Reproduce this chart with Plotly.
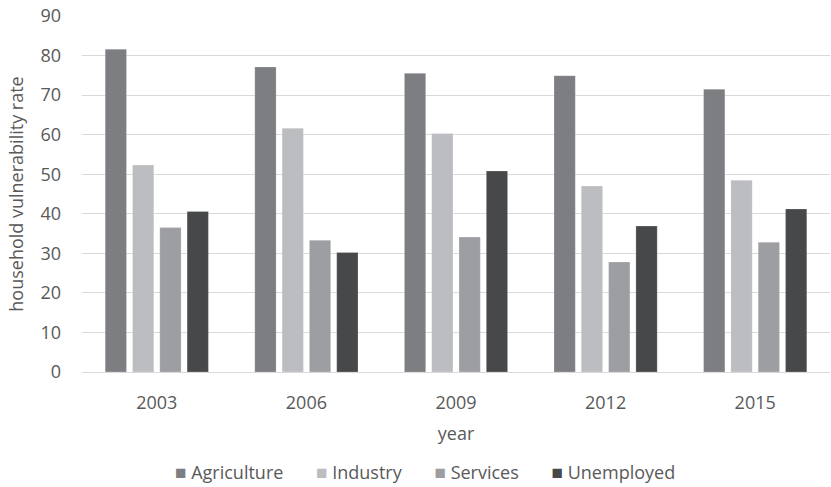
import plotly.graph_objects as go

years = ["2003", "2006", "2009", "2012", "2015"]
agriculture = [81.6, 77.1, 75.5, 74.9, 71.5]
industry = [52.3, 61.6, 60.3, 47.0, 48.5]
services = [36.5, 33.3, 34.1, 27.8, 32.8]
unemployed = [40.6, 30.2, 50.8, 36.9, 41.2]

series = [
    ("Agriculture", agriculture, "#7d7e82"),
    ("Industry", industry, "#bcbdc1"),
    ("Services", services, "#9d9ea2"),
    ("Unemployed", unemployed, "#47484a"),
]

fig = go.Figure()
for name, vals, color in series:
    fig.add_trace(go.Bar(
        x=years, y=vals, name=name,
        marker=dict(color=color, line=dict(color="rgba(255,255,255,0.35)", width=0.6)),
        showlegend=False,
    ))

font_family = "Open Sans"
txt = "#595959"

# compact legend: coloured square followed closely by the series name
gap = "&nbsp;" * 7
legend_text = gap.join(
    f"<span style='color:{color};font-size:19px'>■</span>&nbsp;{name}"
    for name, _, color in series
)
fig.add_annotation(
    text=legend_text, xref="paper", yref="paper",
    x=0.459, y=-0.28, xanchor="center", yanchor="middle",
    showarrow=False, font=dict(family=font_family, size=18, color=txt),
)

fig.update_layout(
    width=831, height=487,
    margin=dict(l=82, r=1, t=16, b=115),
    paper_bgcolor="white", plot_bgcolor="white",
    barmode="group", bargap=0.27, bargroupgap=0.22,
    font=dict(family=font_family, size=18, color=txt),
    xaxis=dict(
        title=dict(text="year", font=dict(size=18, color=txt), standoff=14),
        showgrid=False, showline=True, linecolor="#d9d9d9", linewidth=1,
        ticks="", tickfont=dict(size=18, color=txt), ticklabelstandoff=14,
    ),
    yaxis=dict(
        title=dict(text="household vulnerability rate", font=dict(size=18, color=txt), standoff=12),
        range=[0, 90], dtick=10, showgrid=True, gridcolor="#d9d9d9", gridwidth=1,
        zeroline=False, ticks="", tickfont=dict(size=18, color=txt), ticklabelstandoff=20,
    ),
)

fig.write_html("out.html")
